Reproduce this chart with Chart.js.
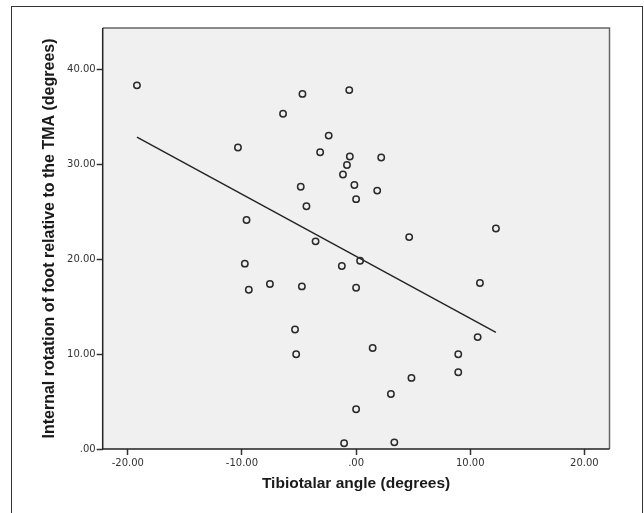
<!DOCTYPE html>
<html>
<head>
<meta charset="utf-8">
<script src="https://cdn.jsdelivr.net/npm/chart.js@4"></script>
<style>
  html, body { margin: 0; padding: 0; background: #fff; overflow: hidden; }
  #wrap { position: relative; width: 644px; height: 513px; }
  #frame { position: absolute; left: 11px; top: 6px; width: 630px; height: 600px;
           border: 1.5px solid #333; pointer-events: none; }
</style>
</head>
<body>
<div id="wrap">
  <canvas id="scatterChart" width="644" height="513"></canvas>
  <div id="frame"></div>
</div>
<script>
// values
const tibiotalarAngle = [
    -19.2, -4.7, -0.6, -6.4, -2.4, -10.35, -3.15, -0.55, 2.2, -0.8,
    -1.15, -0.15, -4.85, 1.85, 0.0, -4.35, -9.6, 12.25, 4.65, -3.55,
    0.35, -9.75, -1.25, 10.85, -7.55, -4.75, 0.0, -9.4, -5.35, 10.65,
    -5.25, 8.95, 1.45, 8.95, 4.85, 3.05, 0.0, -1.05, 3.35
];
const internalRotation = [
    38.35, 37.45, 37.85, 35.35, 33.05, 31.8, 31.3, 30.85, 30.75, 29.95,
    28.95, 27.85, 27.65, 27.25, 26.35, 25.6, 24.15, 23.25, 22.35, 21.9,
    19.85, 19.55, 19.3, 17.5, 17.4, 17.15, 17.0, 16.8, 12.6, 11.8,
    10.0, 10.0, 10.65, 8.1, 7.5, 5.8, 4.2, 0.6, 0.7
];
// fit line end points
const fitX = [-19.2, 12.25];
const fitY = [32.9, 12.3];

const xTicks = [-20, -10, 0, 10, 20];
const yTicks = [0, 10, 20, 30, 40];

const points = tibiotalarAngle.map((x, i) => ({x: x, y: internalRotation[i]}));
const fitLine = fitX.map((x, i) => ({x: x, y: fitY[i]}));

const fmt = v => v === 0 ? '.00' : v.toFixed(2);

const plotBox = {
    id: 'plotBox',
    beforeDraw(chart) {
        const a = chart.chartArea, ctx = chart.ctx;
        ctx.save();
        ctx.fillStyle = '#f0f0f0';
        ctx.fillRect(a.left, a.top, a.right - a.left, a.bottom - a.top);
        ctx.restore();
    },
    afterDraw(chart) {
        const a = chart.chartArea, ctx = chart.ctx;
        ctx.save();
        ctx.strokeStyle = '#666';
        ctx.lineWidth = 1.5;
        ctx.beginPath();
        ctx.moveTo(a.left, a.top);
        ctx.lineTo(a.right, a.top);
        ctx.lineTo(a.right, a.bottom);
        ctx.stroke();
        ctx.strokeStyle = '#222';
        ctx.beginPath();
        ctx.moveTo(a.left, a.top);
        ctx.lineTo(a.left, a.bottom);
        ctx.lineTo(a.right, a.bottom);
        ctx.stroke();
        ctx.restore();
    }
};

const tickFont = {family: 'DejaVu Sans', size: 10};
const xTitleFont = {family: 'Liberation Sans', size: 15.5, weight: 'bold'};
const yTitleFont = {family: 'Liberation Sans', size: 16, weight: 'bold'};

const config = {
    type: 'scatter',
    data: {
        datasets: [
            {
                data: points,
                showLine: false,
                pointStyle: 'circle',
                pointRadius: 3.2,
                pointHoverRadius: 3.2,
                pointBackgroundColor: 'rgba(0,0,0,0)',
                pointBorderColor: '#2a2a2a',
                pointBorderWidth: 1.5
            },
            {
                data: fitLine,
                showLine: true,
                borderColor: '#222',
                borderWidth: 1.4,
                pointRadius: 0
            }
        ]
    },
    options: {
        responsive: false,
        animation: false,
        layout: {
            padding: {left: 0, top: 28, right: 34.5, bottom: 0}
        },
        plugins: {
            legend: {display: false},
            tooltip: {enabled: false}
        },
        scales: {
            x: {
                type: 'linear',
                min: -22.2,
                max: 22.2,
                afterBuildTicks: s => { s.ticks = xTicks.map(v => ({value: v})); },
                afterFit: s => { s.height = 64; },
                border: {display: false},
                grid: {drawOnChartArea: false, drawTicks: true, tickLength: 6, tickColor: '#333', tickWidth: 1.5},
                ticks: {color: '#333', font: tickFont, padding: 2, callback: v => fmt(v), maxRotation: 0},
                title: {
                    display: true,
                    text: 'Tibiotalar angle (degrees)',
                    color: '#1a1a1a',
                    font: xTitleFont,
                    padding: {top: 0, bottom: 20}
                }
            },
            y: {
                type: 'linear',
                min: 0,
                max: 44.4,
                afterBuildTicks: s => { s.ticks = yTicks.map(v => ({value: v})); },
                afterFit: s => { s.width = 102.7; },
                border: {display: false},
                grid: {drawOnChartArea: false, drawTicks: true, tickLength: 6, tickColor: '#333', tickWidth: 1.5},
                ticks: {color: '#333', font: tickFont, padding: 1, callback: v => fmt(v)},
                title: {
                    display: true,
                    text: 'Internal rotation of foot relative to the TMA (degrees)',
                    color: '#1a1a1a',
                    font: yTitleFont,
                    padding: {top: 40, bottom: 0}
                }
            }
        }
    },
    plugins: [plotBox]
};

const scatterChart = new Chart(
document.getElementById('scatterChart').getContext('2d'),
config
);
</script>
</body>
</html>
